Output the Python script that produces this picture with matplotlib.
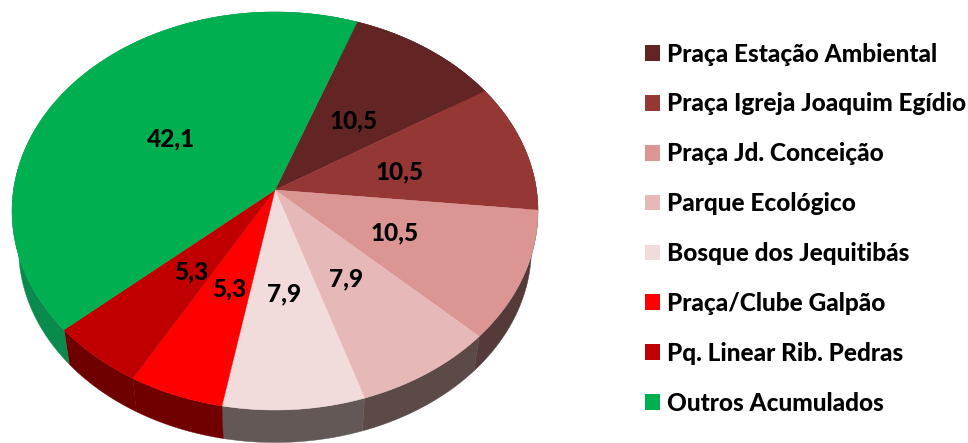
import numpy as np
import matplotlib
matplotlib.use("Agg")
import matplotlib.pyplot as plt
from matplotlib.patches import Patch

plt.rcParams['font.family'] = ['Lato', 'DejaVu Sans']

labels = ["Praça Estação Ambiental", "Praça Igreja Joaquim Egídio", "Praça Jd. Conceição",
          "Parque Ecológico", "Bosque dos Jequitibás", "Praça/Clube Galpão",
          "Pq. Linear Rib. Pedras", "Outros Acumulados"]
values = [10.5, 10.5, 10.5, 7.9, 7.9, 5.3, 5.3, 42.1]
value_text = ["10,5", "10,5", "10,5", "7,9", "7,9", "5,3", "5,3", "42,1"]
top_colors = ["#632523", "#953735", "#DB9694", "#E6B9B8", "#F2DCDB", "#FF0000", "#C00000", "#00B050"]
side_colors = ["#4A1C1A", "#5A2522", "#553A3A", "#5C4A47", "#635856", "#700000", "#6F0000", "#0A8A4C"]
text_pos = [(354, 121), (400, 172), (395, 233), (346, 279), (284, 294), (229, 289), (191, 272), (171, 139)]

# pie geometry in pixels, perspective squashes the circle a bit
cx, cy = 275, 190
rx, ry = 261.5, 196.8
persp = 0.1055
start_angle = 69.8
depth = 38
shrink = 0.975


def project(theta):
    x, y = np.cos(theta), np.sin(theta)
    w = 1 + persp * y
    return rx * x / w, ry * y / w


fig = plt.figure(figsize=(9.68, 4.43), dpi=100)
ax = fig.add_axes([0, 0, 1, 1])
ax.set_xlim(0, 968)
ax.set_ylim(443, 0)
ax.axis('off')

edges = start_angle - np.cumsum([0] + values) / sum(values) * 360

# side walls first, the top face covers whatever is hidden
for i, col in enumerate(side_colors):
    t = np.radians(np.linspace(edges[i], edges[i + 1], 80))
    px, py = project(t)
    xs = np.r_[cx + px, cx + px[::-1] * shrink]
    ys = np.r_[cy - py, cy - py[::-1] * shrink + depth]
    ax.fill(xs, ys, color=col, lw=0.3, zorder=1)

for i, col in enumerate(top_colors):
    t = np.radians(np.linspace(edges[i], edges[i + 1], 120))
    px, py = project(t)
    ax.fill(np.r_[cx, cx + px], np.r_[cy, cy - py], color=col, lw=0.3, zorder=2)

for (tx, ty), s in zip(text_pos, value_text):
    ax.text(tx, ty, s, ha='center', va='center', fontsize=17.6, fontweight='black', color='black', zorder=3)

handles = [Patch(facecolor=c, edgecolor='none', label=l) for c, l in zip(top_colors, labels)]
ax.legend(handles=handles, loc='upper left', bbox_to_anchor=(645, 42.5), bbox_transform=ax.transData,
          frameon=False, prop={'size': 17.6, 'weight': 'black'}, handlelength=0.62, handleheight=0.62,
          handletextpad=0.27, labelspacing=1.1, borderpad=0, borderaxespad=0)

fig.savefig("out.png", dpi=100)
